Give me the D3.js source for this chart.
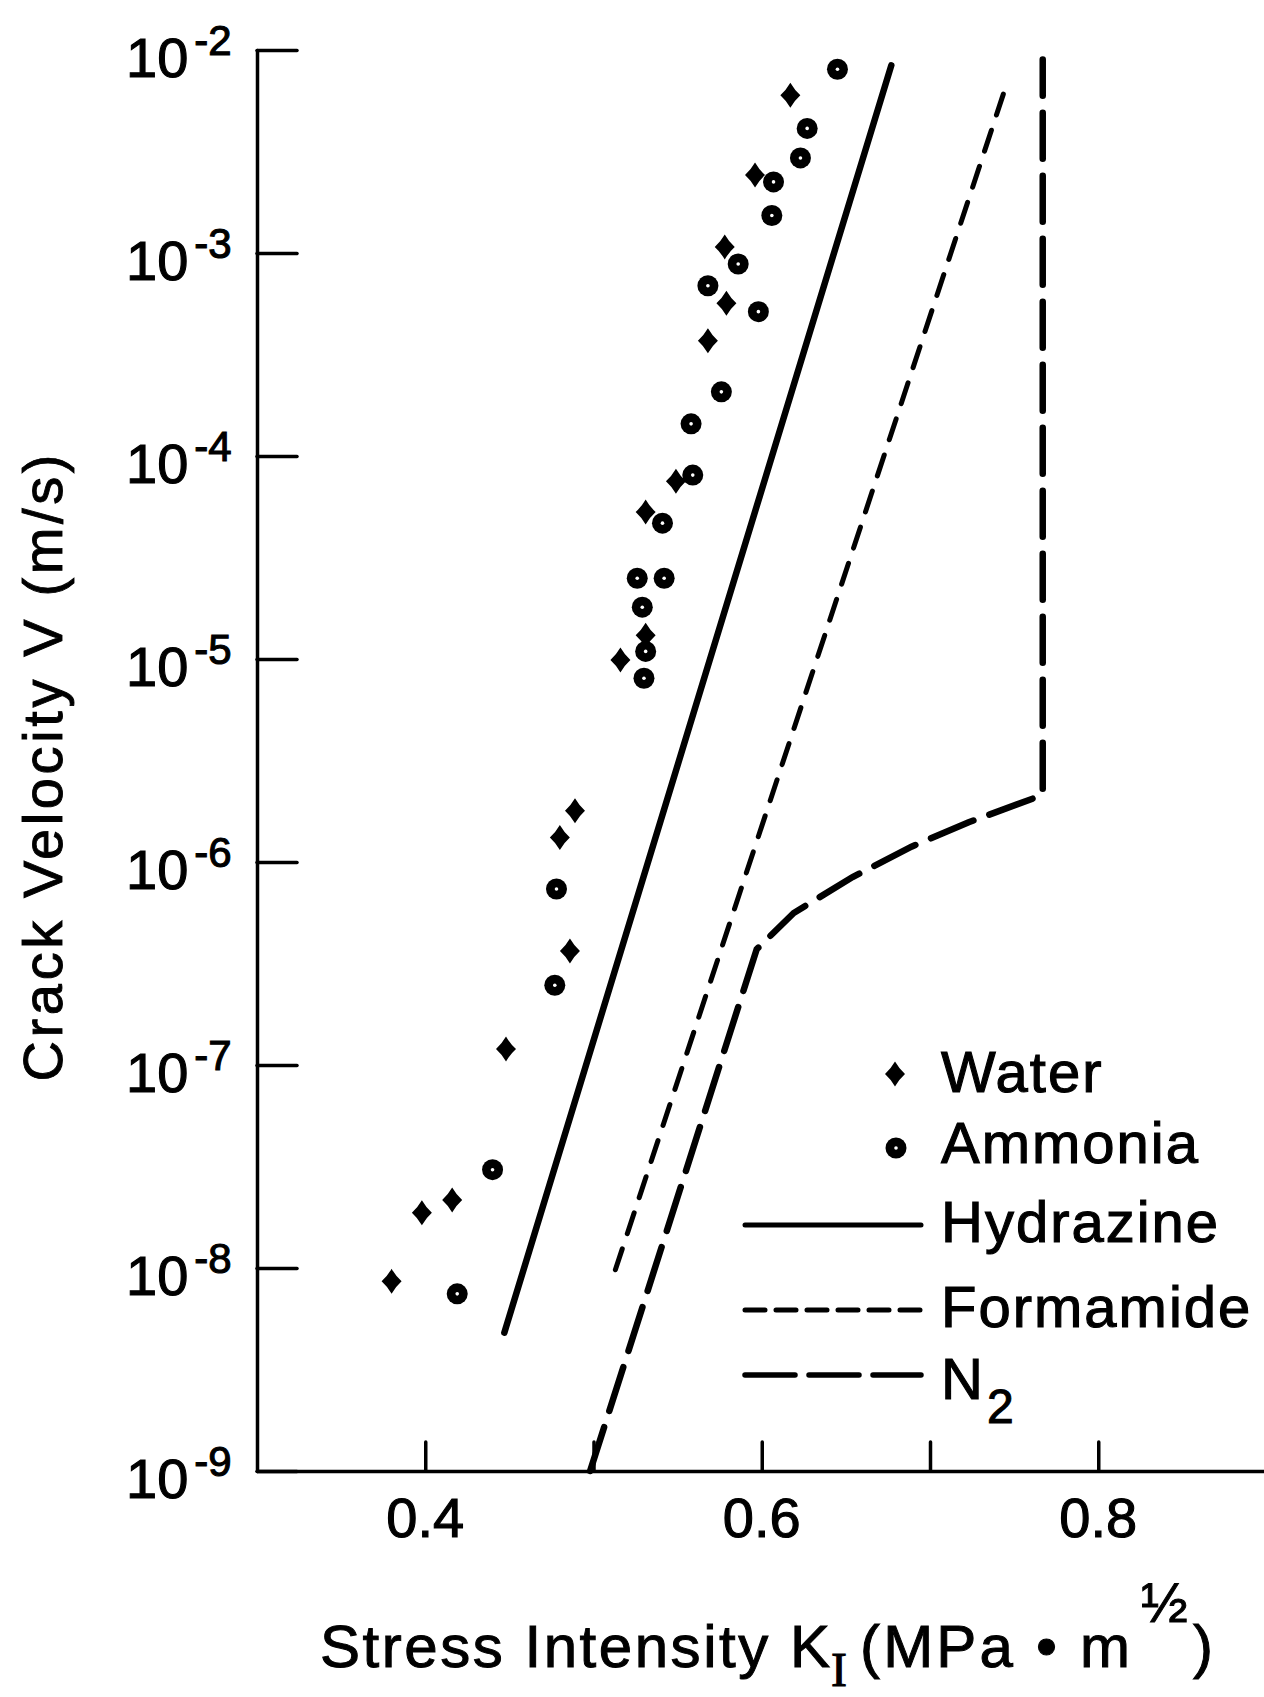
<!DOCTYPE html>
<html>
<head>
<meta charset="utf-8">
<script src="https://cdn.jsdelivr.net/npm/d3@7"></script>
<style>
  html, body { margin: 0; padding: 0; background: #fff; }
  svg { display: block; }
  text { font-family: "Liberation Sans", Arial, Helvetica, sans-serif; fill: #000; }
</style>
</head>
<body>
<svg id="chart" width="1264" height="1697"></svg>
<script>
// ---------------- DATA ----------------
const kTicks = [0.4, 0.5, 0.6, 0.7, 0.8];
const kTickLabels = ["0.4", "", "0.6", "", "0.8"];
const vExponents = [-9, -8, -7, -6, -5, -4, -3, -2];

const waterK = [0.380, 0.398, 0.416, 0.448, 0.480, 0.489, 0.486, 0.516, 0.531, 0.531, 0.549, 0.568, 0.579, 0.578, 0.596, 0.617];
const waterV = [8.6e-9, 1.87e-8, 2.16e-8, 1.2e-7, 1.32e-6, 1.79e-6, 3.64e-7, 9.9e-6, 1.31e-5, 5.3e-5, 7.5e-5, 3.7e-4, 5.65e-4, 1.07e-3, 2.42e-3, 5.98e-3];

const ammoniaK = [0.419, 0.440, 0.477, 0.478, 0.530, 0.531, 0.529, 0.526, 0.542, 0.541, 0.559, 0.558, 0.576, 0.598, 0.568, 0.586, 0.606, 0.607, 0.623, 0.627, 0.645];
const ammoniaV = [7.46e-9, 3.05e-8, 2.47e-7, 7.36e-7, 8.04e-6, 1.09e-5, 1.80e-5, 2.50e-5, 2.50e-5, 4.67e-5, 8.05e-5, 1.44e-4, 2.07e-4, 5.14e-4, 6.90e-4, 8.83e-4, 1.53e-3, 2.24e-3, 2.94e-3, 4.11e-3, 8.04e-3];

const hydrazineK = [0.447, 0.677];
const hydrazineV = [4.8e-9, 8.4e-3];

const formamideK = [0.513, 0.744];
const formamideV = [9.8e-9, 6.21e-3];

const n2K = [0.498, 0.597, 0.619, 0.654, 0.689, 0.723, 0.767, 0.767];
const n2V = [1e-9, 3.72e-7, 5.61e-7, 8.43e-7, 1.19e-6, 1.57e-6, 2.14e-6, 8.97e-3];

const legendLabels = ["Water", "Ammonia", "Hydrazine", "Formamide", "N"];

// ---------------- CHART ----------------
const svg = d3.select("#chart");
const x = d3.scaleLinear().domain([0.3, 0.9]).range([257, 1266.5]);
const y = d3.scaleLog().domain([1e-9, 1e-2]).range([1471, 50]);

const axisStroke = 3.5;
const textStroke = 1.1;

// y axis (ticks inward)
const yAxis = d3.axisLeft(y)
  .tickValues(vExponents.map(e => Math.pow(10, e)))
  .tickSizeInner(-40).tickSizeOuter(0).tickFormat("");
const gy = svg.append("g").attr("transform", "translate(257,0)").call(yAxis);
gy.selectAll("path, line").attr("stroke", "#000").attr("stroke-width", axisStroke).attr("stroke-linecap", "round");

// x axis (ticks inward)
const xAxis = d3.axisBottom(x)
  .tickValues(kTicks)
  .tickSizeInner(-29).tickSizeOuter(0).tickFormat("");
const gx = svg.append("g").attr("transform", "translate(0,1471)").call(xAxis);
gx.selectAll("path, line").attr("stroke", "#000").attr("stroke-width", axisStroke).attr("stroke-linecap", "round");

// y tick labels 10^e
vExponents.forEach(e => {
  const yy = y(Math.pow(10, e));
  const t = svg.append("text").attr("x", 126).attr("y", yy + 27)
    .attr("font-size", 56).attr("stroke", "#000").attr("stroke-width", textStroke);
  t.append("tspan").text("10");
  t.append("tspan").attr("font-size", 42).attr("dx", 6).attr("dy", -22).text("-" + Math.abs(e));
});

// x tick labels
kTicks.forEach((k, i) => {
  if (!kTickLabels[i]) return;
  svg.append("text").attr("x", x(k)).attr("y", 1537)
    .attr("text-anchor", "middle").attr("font-size", 56)
    .attr("stroke", "#000").attr("stroke-width", textStroke)
    .text(kTickLabels[i]);
});

// axis titles
const xt = svg.append("g").attr("stroke", "#000").attr("stroke-width", 1.0);
xt.append("text").attr("x", 320).attr("y", 1667).attr("font-size", 60)
  .attr("textLength", 510).attr("lengthAdjust", "spacing")
  .text("Stress Intensity K");
xt.append("text").attr("x", 831).attr("y", 1686)
  .style("font-family", "'Liberation Serif', 'DejaVu Serif', serif")
  .attr("font-size", 48).text("I");
xt.append("text").attr("x", 860).attr("y", 1667).attr("font-size", 60)
  .attr("textLength", 270).attr("lengthAdjust", "spacing").text("(MPa • m");
xt.append("text").attr("x", 1141).attr("y", 1622).attr("font-size", 56).text("½");
xt.append("text").attr("x", 1193).attr("y", 1667).attr("font-size", 60).text(")");

svg.append("text")
  .attr("transform", "translate(62,768) rotate(-90)")
  .attr("text-anchor", "middle").attr("font-size", 56)
  .attr("textLength", 627).attr("lengthAdjust", "spacing")
  .attr("stroke", "#000").attr("stroke-width", 0.9)
  .text("Crack Velocity V (m/s)");

// ---------------- SERIES ----------------
const zip = (ks, vs) => ks.map((k, i) => [k, vs[i]]);
const line = d3.line().x(d => x(d[0])).y(d => y(d[1]));

svg.append("path").datum(zip(hydrazineK, hydrazineV)).attr("d", line)
  .attr("fill", "none").attr("stroke", "#000").attr("stroke-width", 6.5).attr("stroke-linecap", "round");
svg.append("path").datum(zip(formamideK, formamideV)).attr("d", line)
  .attr("fill", "none").attr("stroke", "#000").attr("stroke-width", 5)
  .attr("stroke-dasharray", "22,16").attr("stroke-linecap", "round");
svg.append("path").datum(zip(n2K, n2V)).attr("d", line)
  .attr("fill", "none").attr("stroke", "#000").attr("stroke-width", 6.5)
  .attr("stroke-dasharray", "46,17").attr("stroke-linecap", "round");

// marker shapes
const diamondPath = "M0,-12.5 Q4.2,-5.2 10,0 Q4.2,5.2 0,12.5 Q-4.2,5.2 -10,0 Q-4.2,-5.2 0,-12.5 Z";
function drawDiamond(g, cx, cy) {
  g.append("path").attr("d", diamondPath).attr("transform", `translate(${cx},${cy})`).attr("fill", "#000");
}
function drawCircle(g, cx, cy) {
  g.append("circle").attr("cx", cx).attr("cy", cy).attr("r", 10.5).attr("fill", "#000");
  g.append("circle").attr("cx", cx).attr("cy", cy).attr("r", 1.8).attr("fill", "#fff");
}

const gw = svg.append("g");
zip(waterK, waterV).forEach(d => drawDiamond(gw, x(d[0]), y(d[1])));
const ga = svg.append("g");
zip(ammoniaK, ammoniaV).forEach(d => drawCircle(ga, x(d[0]), y(d[1])));

// ---------------- LEGEND ----------------
const lg = svg.append("g");
drawDiamond(lg, 895, 1074);
drawCircle(lg, 896, 1148);
lg.append("line").attr("x1", 745).attr("x2", 921).attr("y1", 1225).attr("y2", 1225)
  .attr("stroke", "#000").attr("stroke-width", 5).attr("stroke-linecap", "round");
lg.append("line").attr("x1", 745).attr("x2", 921).attr("y1", 1310).attr("y2", 1310)
  .attr("stroke", "#000").attr("stroke-width", 5).attr("stroke-dasharray", "20,11").attr("stroke-linecap", "round");
lg.append("line").attr("x1", 745).attr("x2", 921).attr("y1", 1375).attr("y2", 1375)
  .attr("stroke", "#000").attr("stroke-width", 5.5).attr("stroke-dasharray", "50,14").attr("stroke-linecap", "round");

const legendY = [1092, 1163, 1242, 1327, 1399];
legendLabels.forEach((lab, i) => {
  const t = lg.append("text").attr("x", 941).attr("y", legendY[i])
    .attr("font-size", 58).attr("letter-spacing", 2)
    .attr("stroke", "#000").attr("stroke-width", textStroke).text(lab);
  if (i === 4) t.append("tspan").attr("font-size", 48).attr("dx", 2).attr("dy", 24).text("2");
});
</script>
</body>
</html>
